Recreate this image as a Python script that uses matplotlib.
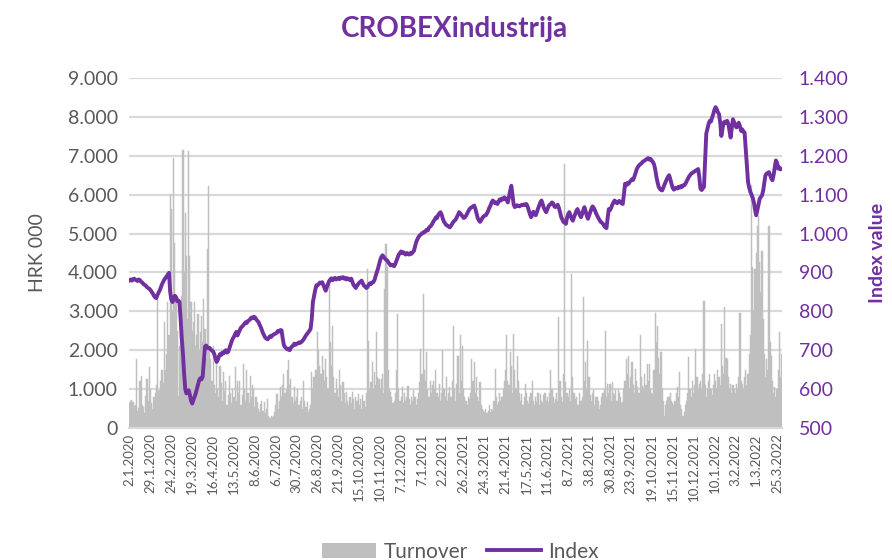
import matplotlib
matplotlib.use("Agg")
import matplotlib.pyplot as plt
from matplotlib.patches import Patch
from matplotlib.lines import Line2D
import numpy as np

plt.rcParams['font.family'] = ['Lato', 'DejaVu Sans']

tick_labels = ["2.1.2020", "29.1.2020", "24.2.2020", "19.3.2020", "16.4.2020", "13.5.2020",
               "8.6.2020", "6.7.2020", "30.7.2020", "26.8.2020", "21.9.2020", "15.10.2020",
               "10.11.2020", "7.12.2020", "7.1.2021", "2.2.2021", "26.2.2021", "24.3.2021",
               "21.4.2021", "17.5.2021", "11.6.2021", "8.7.2021", "3.8.2021", "30.8.2021",
               "23.9.2021", "19.10.2021", "15.11.2021", "10.12.2021", "10.1.2022", "3.2.2022",
               "1.3.2022", "25.3.2022"]
label_step = 18

index_values = [
    880, 882, 879, 883, 884, 881, 880, 878, 882, 880, 876, 874, 870, 868, 866, 862, 860, 858,
    855, 850, 846, 840, 836, 834, 842, 848, 854, 862, 870, 876, 882, 886, 890, 895, 899, 850,
    830, 824, 832, 840, 837, 826, 828, 824, 780, 730, 691, 640, 600, 589, 594, 597, 585, 570,
    563, 572, 580, 589, 600, 612, 623, 628, 625, 632, 670, 709, 712, 708, 705, 706, 702, 699,
    697, 690, 680, 670, 675, 684, 690, 688, 694, 692, 697, 700, 694, 696, 705, 714, 723, 730,
    735, 742, 747, 738, 745, 752, 758, 761, 764, 768, 772, 770, 775, 777, 780, 784, 782, 786,
    785, 780, 776, 773, 766, 760, 752, 744, 738, 732, 730, 728, 732, 736, 734, 738, 740, 742,
    743, 746, 750, 748, 752, 751, 730, 713, 708, 705, 702, 704, 700, 706, 710, 712, 717, 714,
    716, 718, 720, 719, 721, 724, 728, 733, 738, 742, 746, 750, 755, 780, 824, 840, 855, 867,
    867, 870, 874, 872, 875, 868, 860, 853, 862, 870, 878, 882, 885, 880, 884, 886, 882, 884,
    886, 883, 887, 885, 888, 884, 886, 882, 885, 883, 880, 884, 876, 868, 864, 860, 866, 870,
    874, 876, 879, 872, 866, 864, 860, 862, 868, 872, 870, 874, 875, 880, 890, 900, 909, 920,
    932, 940, 944, 940, 936, 933, 931, 926, 922, 918, 920, 918, 916, 922, 930, 938, 946, 950,
    954, 950, 952, 948, 946, 950, 948, 946, 950, 948, 952, 955, 966, 978, 985, 991, 995, 998,
    1000, 1003, 1003, 1006, 1010, 1008, 1015, 1018, 1021, 1026, 1032, 1036, 1042, 1040, 1048, 1052, 1055, 1048,
    1038, 1030, 1026, 1022, 1020, 1018, 1016, 1020, 1025, 1030, 1033, 1036, 1042, 1048, 1055, 1052, 1048, 1044,
    1040, 1042, 1046, 1052, 1058, 1063, 1066, 1068, 1070, 1072, 1064, 1052, 1040, 1034, 1030, 1034, 1040, 1044,
    1046, 1047, 1052, 1058, 1066, 1072, 1080, 1085, 1082, 1078, 1080, 1076, 1082, 1088, 1085, 1090, 1088, 1093,
    1090, 1086, 1080, 1095, 1110, 1123, 1098, 1075, 1068, 1070, 1073, 1071, 1070, 1072, 1074, 1073, 1075, 1074,
    1076, 1070, 1060, 1050, 1042, 1048, 1056, 1050, 1047, 1055, 1064, 1072, 1080, 1085, 1076, 1066, 1060, 1055,
    1062, 1070, 1074, 1076, 1080, 1078, 1070, 1068, 1072, 1074, 1066, 1055, 1042, 1036, 1030, 1028, 1025, 1040,
    1050, 1055, 1046, 1038, 1033, 1042, 1050, 1058, 1063, 1056, 1048, 1042, 1050, 1060, 1068, 1058, 1046, 1038,
    1046, 1055, 1064, 1070, 1066, 1060, 1052, 1046, 1040, 1035, 1030, 1028, 1025, 1020, 1016, 1014, 1040, 1063,
    1060, 1066, 1074, 1080, 1085, 1082, 1078, 1080, 1084, 1080, 1078, 1076, 1100, 1128, 1124, 1130, 1128, 1133,
    1136, 1140, 1138, 1146, 1155, 1165, 1171, 1175, 1178, 1180, 1184, 1186, 1188, 1190, 1192, 1194, 1190, 1192,
    1188, 1184, 1178, 1165, 1146, 1132, 1120, 1115, 1112, 1111, 1118, 1126, 1133, 1140, 1146, 1150, 1140, 1128,
    1118, 1113, 1115, 1118, 1116, 1120, 1118, 1122, 1120, 1124, 1124, 1128, 1134, 1140, 1146, 1150, 1154, 1156,
    1158, 1160, 1162, 1164, 1166, 1145, 1115, 1112, 1116, 1120, 1190, 1257, 1270, 1282, 1290, 1288, 1298, 1307,
    1318, 1325, 1320, 1312, 1307, 1285, 1251, 1270, 1285, 1288, 1284, 1290, 1282, 1265, 1247, 1272, 1294, 1286,
    1278, 1273, 1280, 1285, 1276, 1264, 1268, 1262, 1260, 1217, 1170, 1132, 1118, 1107, 1100, 1092, 1081, 1062,
    1047, 1060, 1075, 1089, 1094, 1098, 1110, 1130, 1150, 1154, 1156, 1158, 1150, 1142, 1137, 1150, 1170, 1188,
    1182, 1167, 1170, 1165, 1166,
]

turnover = [
    650, 700, 720, 680, 560, 600, 1780, 450, 520, 1220, 1350, 600, 540, 380, 820, 1260, 700, 1560,
    1000, 650, 480, 800, 900, 1100, 3320, 950, 970, 1200, 1480, 1150, 2720, 1500, 1900, 3230, 2400, 6010,
    5620, 3000, 6950, 4770, 3230, 2500, 820, 2120, 2600, 3400, 7160, 4000, 5540, 4430, 2800, 7120, 4430, 3230,
    2500, 2720, 3230, 2100, 2380, 2930, 2000, 2460, 2890, 2200, 3320, 2550, 1800, 4600, 6220, 2100, 1780, 1200,
    2120, 1100, 900, 1690, 1000, 800, 1600, 1150, 700, 1440, 950, 1220, 600, 850, 1350, 900, 650, 1000,
    800, 1560, 700, 1220, 900, 1220, 600, 850, 1650, 1000, 700, 1480, 900, 650, 1350, 800, 1100, 1010,
    550, 800, 670, 500, 400, 620, 700, 450, 670, 380, 500, 750, 320, 250, 300, 280, 320, 400,
    600, 880, 500, 700, 1050, 800, 1100, 1390, 900, 1000, 1480, 1740, 1100, 1260, 800, 650, 1050, 700,
    800, 1010, 600, 700, 800, 500, 1220, 700, 550, 670, 400, 500, 580, 1440, 1000, 1300, 1480, 1500,
    2460, 2000, 1600, 1400, 1860, 1500, 1200, 1780, 1300, 1000, 3830, 2200, 1600, 2630, 1300, 900, 1260, 1000,
    800, 1480, 1100, 700, 1180, 900, 650, 920, 700, 600, 800, 650, 920, 750, 500, 800, 700, 880,
    600, 750, 500, 850, 700, 550, 900, 4090, 2250, 1000, 1180, 1690, 1000, 1440, 1100, 2460, 1300, 1260,
    1000, 1260, 1400, 900, 3570, 4730, 4130, 1500, 1000, 920, 800, 650, 700, 900, 1480, 2930, 1000, 700,
    800, 1050, 650, 900, 700, 800, 1090, 750, 600, 800, 700, 970, 800, 600, 750, 900, 1180, 2030,
    1400, 3440, 1500, 1200, 1950, 1000, 800, 1220, 900, 1100, 1220, 1000, 1480, 900, 800, 1140, 700, 900,
    2000, 1000, 800, 1310, 700, 900, 1050, 800, 1200, 2630, 1000, 700, 1140, 1860, 900, 2380, 1200, 2120,
    1000, 800, 700, 600, 800, 750, 900, 1780, 1200, 1690, 900, 1310, 800, 700, 1180, 600, 500, 450,
    400, 500, 380, 450, 600, 400, 500, 450, 700, 1520, 800, 600, 670, 900, 700, 800, 1010, 1200,
    1500, 2380, 1200, 1100, 1950, 1600, 900, 2420, 1500, 1000, 1860, 1200, 900, 700, 880, 600, 800, 1140,
    900, 700, 620, 800, 900, 1220, 700, 600, 800, 670, 900, 600, 880, 700, 650, 840, 900, 700,
    800, 670, 900, 1480, 1000, 800, 650, 750, 900, 700, 2850, 1200, 800, 670, 1400, 6780, 1180, 900,
    800, 1000, 700, 3960, 1300, 900, 750, 800, 600, 580, 900, 700, 800, 3360, 1200, 1690, 1000, 2250,
    1300, 840, 700, 900, 970, 600, 800, 800, 700, 500, 580, 800, 900, 1000, 2500, 800, 1140, 900,
    1140, 700, 1180, 900, 840, 1000, 700, 1010, 900, 800, 650, 670, 1000, 1200, 1780, 1400, 1860, 1000,
    1300, 1690, 1100, 900, 1520, 1200, 1050, 900, 2380, 1300, 1090, 1000, 1400, 1100, 1650, 1200, 1650, 1000,
    900, 880, 1500, 2970, 2200, 2630, 1800, 1400, 1950, 1000, 700, 320, 600, 700, 800, 800, 900, 700,
    650, 580, 700, 900, 1050, 800, 1440, 600, 500, 320, 400, 580, 700, 900, 1820, 1000, 800, 1220,
    900, 1100, 2030, 1300, 1000, 1140, 1200, 1000, 1400, 3270, 1100, 800, 1000, 1200, 1390, 1000, 840, 1100,
    1390, 1200, 1000, 1480, 1300, 1100, 2680, 1600, 1400, 3100, 1800, 1780, 1300, 1000, 1140, 900, 1100, 1010,
    900, 1140, 1000, 1300, 2970, 1200, 1140, 1000, 1300, 1480, 1100, 1400, 1900, 2400, 6260, 4130, 3000, 4090,
    4500, 5200, 5450, 4260, 3500, 4560, 2800, 1900, 1300, 1780, 1500, 5200, 2200, 1860, 1200, 900, 1050, 800,
    1010, 1500, 2460, 1300, 1900,
]

left_ticks = [0, 1000, 2000, 3000, 4000, 5000, 6000, 7000, 8000, 9000]
right_ticks = [500, 600, 700, 800, 900, 1000, 1100, 1200, 1300, 1400]

def fmt(v):
    return f"{v:,}".replace(",", ".")

PURPLE = "#7030A0"
GREY_TXT = "#595959"
BAR = "#BFBFBF"
GRID = "#D9D9D9"

n = len(index_values)
x = np.arange(n)

fig = plt.figure(figsize=(8.92, 5.6), dpi=100)
ax = fig.add_axes([0.1446, 0.2357, 0.877 - 0.1446, 0.8607 - 0.2357])
ax2 = ax.twinx()

ax.bar(x, turnover, width=1.0, color=BAR, edgecolor=BAR, linewidth=0.35, zorder=2)
ax.set_ylim(0, 9000)
ax.set_xlim(-0.5, n - 0.5)
ax.set_yticks(left_ticks)
ax.set_yticklabels([fmt(v) for v in left_ticks], color=GREY_TXT, fontsize=14)
ax.grid(axis='y', color=GRID, linewidth=1.6, zorder=0)
ax.set_axisbelow(True)
ax.set_xticks(x[::label_step][:len(tick_labels)])
ax.set_xticklabels(tick_labels, rotation=90, fontsize=9.5, color=GREY_TXT)
ax.tick_params(axis='y', length=0, pad=8)
ax.tick_params(axis='x', length=0, pad=4)
for s in ax.spines.values():
    s.set_visible(False)
ax.spines['bottom'].set_visible(True)
ax.spines['bottom'].set_color(GRID)
ax.spines['bottom'].set_linewidth(1.6)
ax.set_ylabel("HRK 000", color=GREY_TXT, fontsize=14)
ax.yaxis.set_label_coords(-0.127, 0.5)

ax2.plot(x, index_values, color=PURPLE, linewidth=2.8, zorder=3, solid_joinstyle='round')
ax2.set_ylim(500, 1400)
ax2.set_yticks(right_ticks)
ax2.set_yticklabels([fmt(v) for v in right_ticks], color=PURPLE, fontsize=14)
ax2.tick_params(axis='y', length=0, pad=12)
for s in ax2.spines.values():
    s.set_visible(False)
ax2.set_ylabel("Index value", color=PURPLE, fontsize=14, fontweight='bold')
ax2.yaxis.set_label_coords(1.133, 0.5)

fig.text(0.51, 0.948, "CROBEXindustrija", ha='center', va='center', color=PURPLE,
         fontsize=20, fontweight='bold')

handles = [Patch(facecolor=BAR, edgecolor='none', label='Turnover'),
           Line2D([0], [0], color=PURPLE, linewidth=2.8, label='Index')]
fig.legend(handles=handles, loc='center', bbox_to_anchor=(0.516, 0.015), ncol=2, frameon=False,
           fontsize=15, labelcolor=GREY_TXT, handlelength=2.6, columnspacing=0.9, handletextpad=0.35)

fig.savefig("out.png", dpi=100)
